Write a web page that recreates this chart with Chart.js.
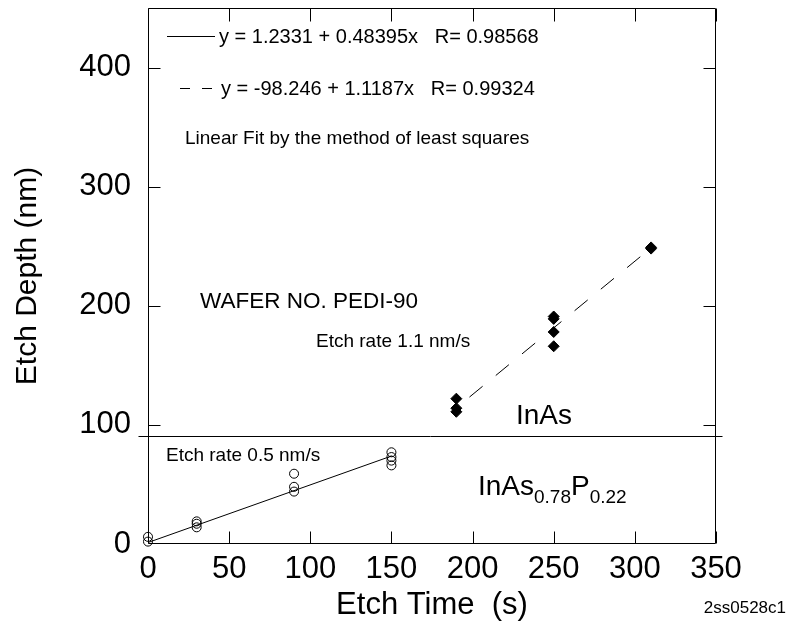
<!DOCTYPE html>
<html>
<head>
<meta charset="utf-8">
<script src="https://cdn.jsdelivr.net/npm/chart.js@4"></script>
<style>
  html, body { margin: 0; padding: 0; background: #fff; }
  #wrap { width: 790px; height: 638px; }
</style>
</head>
<body>
<div id="wrap"><canvas id="c" width="790" height="638"></canvas></div>
<script>
// ---- data ----
const xTickValues = [0, 50, 100, 150, 200, 250, 300, 350];
const yTickValues = [0, 100, 200, 300, 400];

// InAs (filled diamonds)
const inasTime  = [190, 190, 190, 250, 250, 250, 250, 310, 310];
const inasDepth = [122, 114, 111, 191, 189, 178, 166, 249, 248];

// InAs0.78P0.22 (open circles)
const inaspTime  = [0, 0, 30, 30, 30, 90, 90, 90, 150, 150, 150, 150];
const inaspDepth = [6, 2, 19, 17, 14, 59, 48, 44, 77, 73, 70, 66];

// least-squares fit line end points
const fitSolidTime   = [0, 150];
const fitSolidDepth  = [1.23, 73.83];
const fitDashedTime  = [190, 310];
const fitDashedDepth = [114.3, 248.6];

// boundary between the two layers
const layerBoundaryDepth = 90.5;

const FONT = 'Arial, "Liberation Sans", sans-serif';

const toPts = (xs, ys) => xs.map((x, i) => ({ x: x, y: ys[i] }));

const overlay = {
  id: 'overlay',
  afterDraw(chart) {
    const ctx = chart.ctx;
    const ca = chart.chartArea;
    const xs = chart.scales.x, ys = chart.scales.y;
    const L = Math.round(ca.left) + 0.5, R = Math.round(ca.right) - 0.5;
    const T = Math.round(ca.top) + 0.5, B = Math.round(ca.bottom) - 0.5;
    ctx.save();
    ctx.strokeStyle = '#000';
    ctx.lineWidth = 1;
    ctx.beginPath();
    ctx.rect(L, T, R - L, B - T);
    // inward ticks
    xTickValues.forEach(v => {
      const p = Math.round(xs.getPixelForValue(v)) + 0.5;
      ctx.moveTo(p, B); ctx.lineTo(p, B - 12);
      ctx.moveTo(p, T); ctx.lineTo(p, T + 13);
    });
    yTickValues.forEach(v => {
      if (v === 0) return;
      const p = Math.round(ys.getPixelForValue(v)) + 0.5;
      ctx.moveTo(L, p); ctx.lineTo(L + 12, p);
      ctx.moveTo(R, p); ctx.lineTo(R - 12, p);
    });
    // layer boundary
    const sy = Math.round(ys.getPixelForValue(layerBoundaryDepth)) + 0.5;
    ctx.moveTo(L - 10, sy); ctx.lineTo(R + 7, sy);
    ctx.stroke();

    // legend samples
    ctx.beginPath();
    ctx.moveTo(167, 36.5); ctx.lineTo(215, 36.5);
    ctx.moveTo(180, 88.5); ctx.lineTo(190, 88.5);
    ctx.moveTo(202, 88.5); ctx.lineTo(212, 88.5);
    ctx.stroke();

    ctx.fillStyle = '#000';
    ctx.textBaseline = 'middle';
    ctx.textAlign = 'left';
    ctx.font = '20px ' + FONT;
    ctx.fillText('y = 1.2331 + 0.48395x   R= 0.98568', 219, 37);
    ctx.fillText('y = -98.246 + 1.1187x   R= 0.99324', 221, 89);
    ctx.font = '19px ' + FONT;
    ctx.fillText('Linear Fit by the method of least squares', 185, 139);
    ctx.font = '22.5px ' + FONT;
    ctx.fillText('WAFER NO. PEDI-90', 200, 302);
    ctx.font = '19px ' + FONT;
    ctx.fillText('Etch rate 1.1 nm/s', 316, 342);
    ctx.fillText('Etch rate 0.5 nm/s', 166, 456);
    ctx.font = '28px ' + FONT;
    ctx.fillText('InAs', 516, 416);
    // InAs0.78P0.22 with subscripts
    let x = 478;
    const yMain = 487, ySub = 498;
    ctx.font = '28px ' + FONT;
    ctx.fillText('InAs', x, yMain); x += ctx.measureText('InAs').width;
    ctx.font = '19px ' + FONT;
    ctx.fillText('0.78', x, ySub); x += ctx.measureText('0.78').width;
    ctx.font = '28px ' + FONT;
    ctx.fillText('P', x, yMain); x += ctx.measureText('P').width;
    ctx.font = '19px ' + FONT;
    ctx.fillText('0.22', x, ySub);

    ctx.font = '17px ' + FONT;
    ctx.textAlign = 'right';
    ctx.fillText('2ss0528c1', 786, 608);
    ctx.restore();
  }
};

new Chart(document.getElementById('c'), {
  type: 'scatter',
  data: {
    datasets: [
      {
        label: 'InAs fit',
        type: 'line',
        data: toPts(fitDashedTime, fitDashedDepth),
        borderColor: '#000',
        borderWidth: 1,
        borderDash: [17, 17],
        borderDashOffset: 17,
        pointRadius: 0,
        fill: false,
        tension: 0
      },
      {
        label: 'InAsP fit',
        type: 'line',
        data: toPts(fitSolidTime, fitSolidDepth),
        borderColor: '#000',
        borderWidth: 1,
        pointRadius: 0,
        fill: false,
        tension: 0
      },
      {
        label: 'InAs',
        data: toPts(inasTime, inasDepth),
        pointStyle: 'rectRot',
        pointRadius: 5.5,
        backgroundColor: '#000',
        borderColor: '#000',
        borderWidth: 1,
        clip: false
      },
      {
        label: 'InAs0.78P0.22',
        data: toPts(inaspTime, inaspDepth),
        pointStyle: 'circle',
        pointRadius: 4.5,
        backgroundColor: 'rgba(0,0,0,0)',
        borderColor: '#000',
        borderWidth: 1,
        clip: false
      }
    ]
  },
  options: {
    responsive: false,
    animation: false,
    events: [],
    layout: { padding: { left: 0, top: 8, right: 74, bottom: 0 } },
    plugins: {
      legend: { display: false },
      tooltip: { enabled: false }
    },
    scales: {
      x: {
        type: 'linear',
        min: 0, max: 350,
        afterBuildTicks: s => { s.ticks = xTickValues.map(v => ({ value: v })); },
        afterFit: s => { s.height = 94; s.paddingLeft = 0; s.paddingRight = 0; },
        grid: { display: false, drawTicks: false },
        border: { display: false },
        ticks: { color: '#000', font: { family: FONT, size: 31 }, padding: 7, maxRotation: 0, autoSkip: false },
        title: { display: true, text: 'Etch Time  (s)', color: '#000', font: { family: FONT, size: 31 }, padding: { top: 0, bottom: 14 } }
      },
      y: {
        type: 'linear',
        min: 0, max: 450,
        afterBuildTicks: s => { s.ticks = yTickValues.map(v => ({ value: v })); },
        afterFit: s => { s.width = 148; s.paddingTop = 0; s.paddingBottom = 0; },
        grid: { display: false, drawTicks: false },
        border: { display: false },
        ticks: { color: '#000', font: { family: FONT, size: 31 }, padding: 17, autoSkip: false },
        title: { display: true, text: 'Etch Depth (nm)', color: '#000', font: { family: FONT, size: 30 }, padding: { top: 10, bottom: 0 } }
      }
    }
  },
  plugins: [overlay]
});
</script>
</body>
</html>
